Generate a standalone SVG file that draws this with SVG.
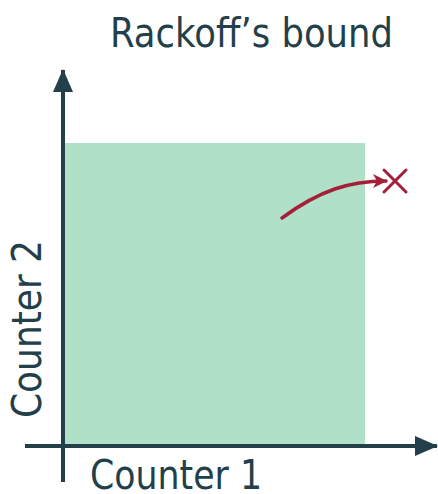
<svg xmlns="http://www.w3.org/2000/svg" width="438" height="494" viewBox="0 0 438 494">
<style>
.t{font-family:"DejaVu Sans","Liberation Sans",sans-serif;fill:#233f4a;font-size:41px}
.ax{stroke:#233f4a;stroke-width:4;fill:none}
</style>
<defs>
<marker id="ah" markerWidth="24" markerHeight="20" refX="22" refY="10" orient="auto" markerUnits="userSpaceOnUse"><path d="M0,0 L23,10 L0,20 Z" fill="#233f4a"/></marker>
<marker id="rh" markerWidth="14" markerHeight="14" refX="13" refY="7" orient="auto" markerUnits="userSpaceOnUse"><path d="M0,0 L14,7 L0,14 L4,7 Z" fill="#a51e3a"/></marker>
</defs>
<g id="region"><rect x="64" y="143" width="301" height="303" fill="#b0e0c8"/></g>
<g id="connectors">
<line class="ax" x1="63" y1="482" x2="63" y2="70" marker-end="url(#ah)"/>
<line class="ax" x1="25" y1="446" x2="437" y2="446" marker-end="url(#ah)"/>
<path d="M282,218 C320,190 350,181 386,181" stroke="#a51e3a" stroke-width="3.5" fill="none" stroke-linecap="round" marker-end="url(#rh)"/>
</g>
<g id="cross" stroke="#a51e3a" stroke-width="3" stroke-linecap="round"><line x1="384" y1="170" x2="406" y2="192"/><line x1="406" y1="170" x2="384" y2="192"/></g>
<g id="labels">
<text class="t" x="110" y="47" textLength="283" lengthAdjust="spacingAndGlyphs">Rackoff’s bound</text>
<text class="t" x="90" y="489" textLength="172" lengthAdjust="spacingAndGlyphs">Counter 1</text>
<text class="t" x="0" y="0" textLength="178" lengthAdjust="spacingAndGlyphs" transform="translate(41,418) rotate(-90)">Counter 2</text>
</g>
</svg>
